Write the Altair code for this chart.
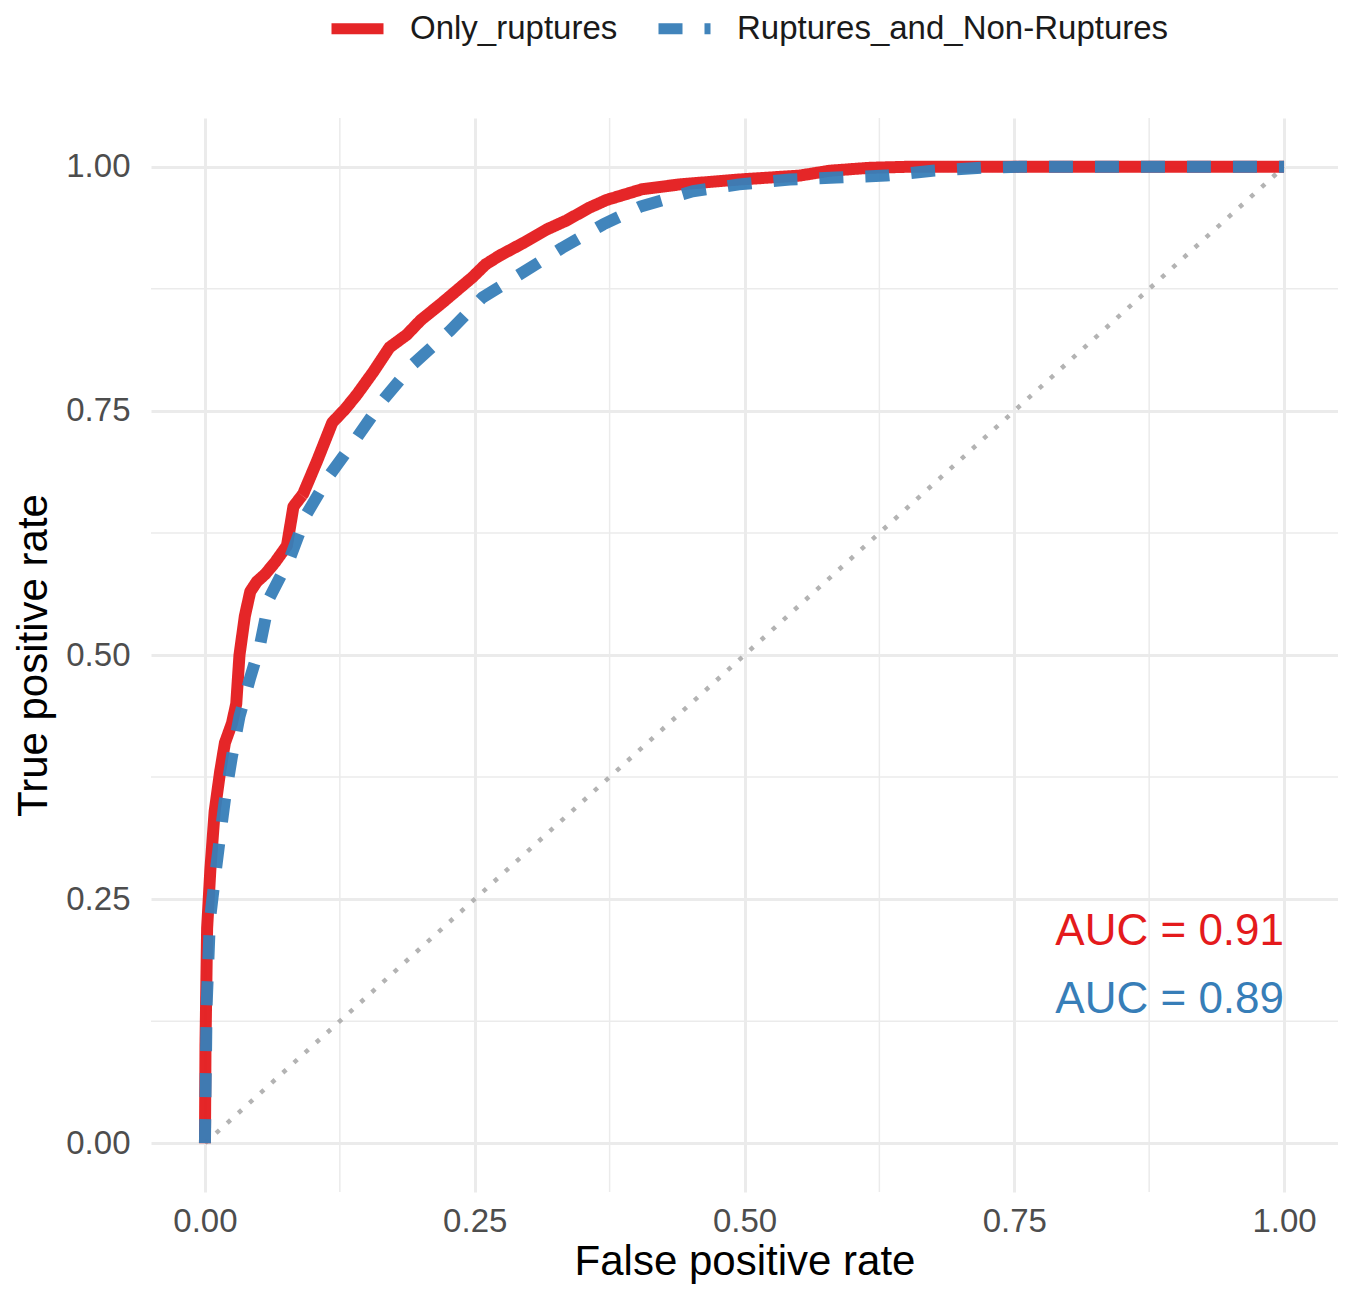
import altair as alt
import pandas as pd

# ---- data ----
red_fpr = [0, 0.0005, 0.002, 0.005, 0.009, 0.014, 0.0185, 0.025, 0.029, 0.032, 0.037, 0.042,
           0.048, 0.056, 0.065, 0.076, 0.082, 0.091, 0.104, 0.118, 0.13, 0.141, 0.156, 0.171,
           0.187, 0.2, 0.218, 0.233, 0.248, 0.26, 0.273, 0.295, 0.317, 0.335, 0.356, 0.372,
           0.387, 0.405, 0.44, 0.495, 0.551, 0.579, 0.616, 0.65, 1.0]
red_tpr = [0, 0.10, 0.22, 0.28, 0.34, 0.38, 0.41, 0.43, 0.45, 0.50, 0.54, 0.565,
           0.575, 0.583, 0.595, 0.612, 0.652, 0.665, 0.699, 0.738, 0.752, 0.767, 0.79, 0.815,
           0.828, 0.843, 0.859, 0.873, 0.887, 0.900, 0.909, 0.922, 0.936, 0.945, 0.958, 0.966,
           0.971, 0.977, 0.982, 0.987, 0.991, 0.996, 0.999, 1.0, 1.0]

blue_fpr = [0, 0.0015, 0.0046, 0.009, 0.014, 0.0185, 0.025, 0.032, 0.042, 0.051, 0.06, 0.079,
            0.094, 0.116, 0.141, 0.165, 0.193, 0.227, 0.257, 0.292, 0.331, 0.369, 0.403, 0.452,
            0.495, 0.542, 0.585, 0.631, 0.674, 0.72, 0.755, 1.0]
blue_tpr = [0, 0.14, 0.229, 0.27, 0.314, 0.352, 0.396, 0.437, 0.477, 0.51, 0.559, 0.60,
            0.644, 0.685, 0.723, 0.761, 0.798, 0.832, 0.866, 0.89, 0.917, 0.941, 0.959, 0.975,
            0.982, 0.987, 0.989, 0.991, 0.996, 0.999, 1.0, 1.0]

series_names = ["Only_ruptures", "Ruptures_and_Non-Ruptures"]
series_colors = ["#E41A1C", "#377EB8"]
auc_labels = ["AUC = 0.91", "AUC = 0.89"]
auc_y = [0.216, 0.147]

major_ticks = [0, 0.25, 0.5, 0.75, 1.0]
minor_ticks = [0.125, 0.375, 0.625, 0.875]

FONT = "Liberation Sans"

rows = []
for i, (x, y) in enumerate(zip(red_fpr, red_tpr)):
    rows.append({"fpr": x, "tpr": y, "model": series_names[0], "ord": i})
for i, (x, y) in enumerate(zip(blue_fpr, blue_tpr)):
    rows.append({"fpr": x, "tpr": y, "model": series_names[1], "ord": i})
df = pd.DataFrame(rows)

xscale = alt.Scale(domain=[-0.05, 1.05], nice=False, zero=False)
yscale = alt.Scale(domain=[-0.05, 1.05], nice=False, zero=False)

minor_df = pd.DataFrame({"v": minor_ticks})
minor_x = alt.Chart(minor_df).mark_rule(color="#EBEBEB", strokeWidth=1.5).encode(
    x=alt.X("v:Q", scale=xscale))
minor_y = alt.Chart(minor_df).mark_rule(color="#EBEBEB", strokeWidth=1.5).encode(
    y=alt.Y("v:Q", scale=yscale))

diag_df = pd.DataFrame({"a": [0.0, 1.0], "b": [0.0, 1.0]})
diag = alt.Chart(diag_df).mark_line(color="#B3B3B3", strokeWidth=4.5,
                                    strokeDash=[4.5, 10.5], strokeCap="butt").encode(
    x=alt.X("a:Q", scale=xscale),
    y=alt.Y("b:Q", scale=yscale),
)

lines = alt.Chart(df).mark_line(strokeWidth=12, opacity=0.95, strokeJoin="round").encode(
    x=alt.X("fpr:Q", scale=xscale, title="False positive rate",
            axis=alt.Axis(values=major_ticks, format=".2f", grid=True)),
    y=alt.Y("tpr:Q", scale=yscale, title="True positive rate",
            axis=alt.Axis(values=major_ticks, format=".2f", grid=True)),
    color=alt.Color("model:N",
                    scale=alt.Scale(domain=series_names, range=series_colors),
                    legend=alt.Legend(title=None, orient="none", direction="horizontal",
                                      legendX=175, legendY=-121,
                                      symbolType="stroke", symbolSize=2704,
                                      symbolStrokeWidth=11, labelFontSize=33,
                                      labelFont=FONT, labelColor="#1A1A1A", labelLimit=0,
                                      labelOffset=21, columnPadding=18)),
    strokeDash=alt.StrokeDash("model:N",
                              scale=alt.Scale(domain=series_names, range=[[1, 0], [24, 22]]),
                              legend=None),
    order="ord:Q",
)

auc_df = pd.DataFrame({"label": auc_labels, "y": auc_y, "x": [1.0, 1.0], "model": series_names})
auc = alt.Chart(auc_df).mark_text(align="right", baseline="middle", fontSize=44, font=FONT).encode(
    x=alt.X("x:Q", scale=xscale),
    y=alt.Y("y:Q", scale=yscale),
    text="label:N",
    color=alt.Color("model:N", scale=alt.Scale(domain=series_names, range=series_colors), legend=None),
)

chart = alt.layer(minor_x, minor_y, diag, lines, auc).properties(
    width=1187, height=1074,
    autosize=alt.AutoSizeParams(type="none"),
    padding={"left": 143, "top": 110, "right": 0, "bottom": 92},
).configure_view(stroke=None).configure_axis(
    domain=False, ticks=False, tickSize=0,
    gridColor="#EBEBEB", gridWidth=3,
    labelFont=FONT, labelFontSize=33, labelColor="#4D4D4D",
    titleFont=FONT, titleFontSize=42, titleColor="#000000", titleFontWeight="normal",
).configure_axisX(labelPadding=13, titlePadding=3).configure_axisY(labelPadding=21, titlePadding=10)

chart.save("out.html", embed_options={"renderer": "svg", "actions": False})
